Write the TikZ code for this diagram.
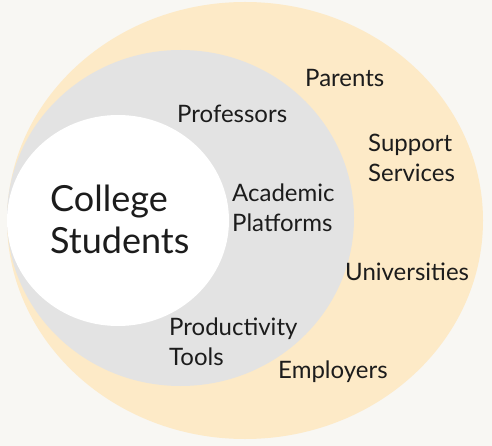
\documentclass[tikz,border=0pt]{standalone}
\usepackage{fontspec}
\setmainfont{Lato}
\usetikzlibrary{positioning}
\definecolor{bgcol}{HTML}{F8F7F3}
\definecolor{outercol}{HTML}{FDEAC7}
\definecolor{midcol}{HTML}{E3E3E3}
\definecolor{txtcol}{HTML}{1C1C1C}

\begin{document}
\begin{tikzpicture}[x=1pt, y=-1pt]
  \tikzstyle{party}=[text=txtcol, inner sep=0, anchor=base west, align=left, font=\fontsize{24}{30}\selectfont]
  \tikzstyle{core}=[party, font=\fontsize{36}{41}\selectfont]

  \fill[bgcol] (0,0) rectangle (492,446);
  \useasboundingbox (0,0) rectangle (492,446);

  % rings
  \fill[outercol] (245,220.5) ellipse [x radius=238, y radius=218.5];
  \fill[midcol] (180.5,218) ellipse [x radius=173.5, y radius=168];
  \fill[white] (118,220.5) ellipse [x radius=111, y radius=105.5];

  % centre
  \node[core] (students) at (50,253) {College\\Students};

  % inner ring
  \node[party] (profs) at (177,123) {Professors};
  \node[party] (platforms) at (232,232) {Academic\\Platforms};
  \node[party] (tools) at (169,365) {Productivity\\Tools};

  % outer ring
  \node[party] (parents) at (305,87) {Parents};
  \node[party] (support) at (368,182) {Support\\Services};
  \node[party] (unis) at (345,280) {Universities};
  \node[party] (employers) at (278,378) {Employers};
\end{tikzpicture}
\end{document}
